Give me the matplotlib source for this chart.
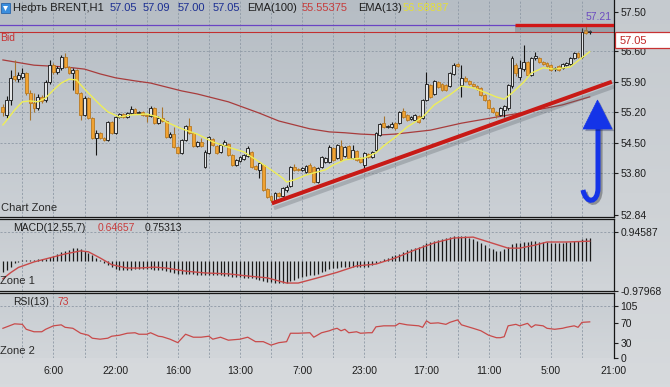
import numpy as np
import matplotlib
matplotlib.use("Agg")
import matplotlib.pyplot as plt
import matplotlib.patheffects as pe
from matplotlib import transforms
from matplotlib.colors import LinearSegmentedColormap
from matplotlib.path import Path
from matplotlib.patches import PathPatch, Polygon, Rectangle

plt.rcParams['font.family'] = ['Liberation Sans', 'DejaVu Sans']

W, H = 670, 387

# ---------------- data ----------------

opens = [
    55.32, 55.14, 55.48, 56.03, 55.96, 56.01, 56.10, 55.64, 55.41, 55.30,
    55.55, 55.48, 55.89, 56.28, 56.12, 56.22, 56.47, 56.24, 56.10, 56.17,
    55.64, 55.14, 55.53, 55.07, 54.61, 54.72, 54.61, 54.56, 54.98, 54.72,
    55.09, 55.16, 55.09, 55.18, 55.27, 55.18, 55.21, 55.14, 55.11, 55.30,
    54.95, 55.07, 55.00, 54.63, 54.70, 54.40, 54.27, 54.56, 54.89, 54.72,
    54.43, 54.52, 53.95, 54.27, 54.59, 54.43, 54.29, 54.45, 54.47, 54.22,
    53.99, 54.08, 54.13, 54.20, 54.29, 53.97, 53.88, 53.99, 53.44, 53.28,
    53.19, 53.35, 53.28, 53.42, 53.51, 53.95, 53.90, 53.88, 53.83, 53.99,
    53.95, 53.60, 53.95, 54.06, 54.06, 54.38, 54.15, 54.43, 54.20, 54.43,
    54.15, 54.31, 54.15, 53.99, 54.24, 54.17, 54.34, 54.68, 54.95, 54.86,
    54.86, 54.95, 54.95, 55.23, 55.14, 55.05, 55.02, 55.11, 55.07, 55.48,
    55.83, 55.62, 55.89, 55.85, 55.83, 55.80, 56.08, 56.31, 55.83, 55.99,
    55.92, 55.85, 55.80, 55.76, 55.60, 55.48, 55.30, 55.21, 55.14, 55.25,
    55.30, 55.80, 56.28, 56.01, 56.20, 56.35, 56.06, 56.45, 56.45, 56.35,
    56.33, 56.28, 56.19, 56.26, 56.22, 56.28, 56.31, 56.45, 56.56, 56.47,
    57.09, 57.05]

closes = [
    55.21, 55.48, 55.99, 55.96, 56.06, 56.10, 55.64, 55.41, 55.30, 55.55,
    55.46, 55.89, 56.28, 56.12, 56.22, 56.47, 56.24, 56.10, 56.17, 55.64,
    55.14, 55.53, 55.07, 54.61, 54.72, 54.61, 54.56, 54.98, 54.72, 55.09,
    55.16, 55.09, 55.18, 55.27, 55.18, 55.21, 55.14, 55.11, 55.30, 54.95,
    55.07, 55.00, 54.63, 54.70, 54.40, 54.27, 54.56, 54.89, 54.72, 54.43,
    54.52, 54.43, 54.29, 54.63, 54.45, 54.27, 54.45, 54.52, 54.22, 53.99,
    54.11, 54.17, 54.22, 54.38, 53.95, 53.90, 54.04, 53.42, 53.26, 53.19,
    53.35, 53.28, 53.46, 53.49, 53.95, 53.88, 53.88, 53.92, 53.97, 53.83,
    53.60, 53.92, 54.17, 54.15, 54.40, 54.11, 54.45, 54.11, 54.40, 54.15,
    54.34, 54.11, 54.06, 54.27, 54.17, 54.29, 54.72, 54.93, 54.86, 54.89,
    54.93, 54.84, 55.21, 55.09, 55.02, 55.09, 55.14, 54.98, 55.48, 55.85,
    55.55, 55.92, 55.78, 55.71, 55.71, 56.10, 56.28, 56.26, 55.99, 55.92,
    55.85, 55.80, 55.73, 55.60, 55.48, 55.30, 55.21, 55.14, 55.30, 55.34,
    55.83, 56.45, 56.10, 56.22, 56.35, 56.06, 56.45, 56.49, 56.35, 56.31,
    56.26, 56.17, 56.22, 56.17, 56.31, 56.33, 56.45, 56.56, 56.47, 57.04,
    57.02, 57.05]

highs = [
    55.39, 55.57, 56.17, 56.40, 56.12, 56.22, 56.12, 55.71, 55.64, 55.62,
    55.60, 55.94, 56.40, 56.33, 56.26, 56.51, 56.56, 56.26, 56.22, 56.19,
    55.67, 55.57, 55.55, 55.09, 54.79, 54.75, 54.63, 55.00, 55.00, 55.11,
    55.18, 55.18, 55.21, 55.34, 55.30, 55.23, 55.23, 55.16, 55.34, 55.32,
    55.11, 55.32, 55.02, 54.75, 54.86, 54.43, 54.59, 54.91, 55.07, 54.75,
    54.54, 54.61, 54.34, 54.66, 54.61, 54.45, 54.47, 54.56, 54.50, 54.24,
    54.13, 54.20, 54.24, 54.43, 54.31, 53.99, 54.06, 54.01, 53.46, 53.30,
    53.37, 53.37, 53.49, 53.53, 53.97, 54.01, 53.92, 53.95, 53.99, 54.04,
    53.97, 53.95, 54.20, 54.17, 54.45, 54.40, 54.47, 54.56, 54.43, 54.45,
    54.45, 54.34, 54.17, 54.29, 54.27, 54.31, 54.75, 54.95, 55.11, 54.91,
    54.98, 54.98, 55.23, 55.30, 55.16, 55.11, 55.16, 55.14, 55.50, 56.12,
    55.85, 55.94, 55.92, 55.87, 55.85, 56.12, 56.33, 56.33, 56.28, 56.03,
    55.94, 55.87, 55.83, 55.78, 55.62, 55.50, 55.32, 55.23, 55.32, 55.37,
    55.85, 56.49, 56.33, 56.40, 56.74, 56.38, 56.47, 56.58, 56.47, 56.38,
    56.35, 56.31, 56.24, 56.28, 56.33, 56.35, 56.47, 56.58, 56.58, 57.13,
    57.21, 57.09]

lows = [
    55.11, 55.07, 55.37, 55.92, 55.89, 55.96, 55.60, 55.02, 55.21, 55.25,
    55.41, 55.44, 55.85, 56.08, 56.08, 56.17, 56.22, 56.08, 55.71, 55.62,
    55.02, 55.11, 55.05, 54.59, 54.22, 54.59, 54.54, 54.54, 54.70, 54.70,
    55.07, 55.07, 55.07, 55.16, 55.16, 55.16, 55.11, 54.98, 55.09, 54.93,
    54.93, 54.98, 54.61, 54.61, 54.38, 54.24, 54.24, 54.54, 54.70, 54.40,
    54.40, 54.40, 53.92, 54.24, 54.43, 54.24, 54.27, 54.43, 54.20, 53.97,
    53.97, 54.06, 54.11, 54.17, 53.92, 53.88, 53.69, 53.39, 53.23, 53.14,
    53.12, 53.26, 53.26, 53.37, 53.49, 53.85, 53.85, 53.85, 53.81, 53.81,
    53.58, 53.58, 53.92, 54.04, 54.04, 54.08, 54.13, 54.08, 54.17, 54.13,
    54.13, 54.08, 54.04, 53.92, 54.15, 54.15, 54.31, 54.66, 54.84, 54.84,
    54.84, 54.79, 54.93, 55.07, 55.00, 55.02, 55.00, 54.95, 55.05, 55.46,
    55.53, 55.60, 55.76, 55.69, 55.69, 55.78, 56.06, 56.24, 55.55, 55.89,
    55.83, 55.78, 55.71, 55.57, 55.46, 55.28, 55.18, 55.07, 55.11, 55.09,
    55.25, 55.76, 56.03, 55.94, 56.15, 56.03, 56.03, 56.40, 56.33, 56.28,
    56.24, 56.15, 56.15, 56.15, 56.19, 56.26, 56.28, 56.42, 56.45, 56.45,
    57.00, 57.00]

# EMA lines, read at the bars where they were sampled
ema13_x = [0, 1, 3, 5, 7, 9, 11, 13, 15, 17, 19, 20, 22, 25, 27, 30, 33, 37, 40, 42,
           45, 47, 50, 54, 58, 62, 66, 69, 72, 73, 75, 78, 80, 83, 85, 88, 90, 93, 96, 98,
           101, 104, 108, 111, 115, 118, 121, 124, 127, 129, 131, 134, 136, 139, 142, 146, 149, 151]
ema13_v = [54.91, 55.02, 55.25, 55.44, 55.46, 55.44, 55.53, 55.71, 55.87, 55.96,
           55.94, 55.83, 55.64, 55.37, 55.21, 55.09, 55.14, 55.16, 55.09, 54.98,
           54.86, 54.79, 54.70, 54.52, 54.40, 54.29, 54.06, 53.88, 53.69, 53.60,
           53.65, 53.76, 53.81, 53.88, 53.99, 54.11, 54.13, 54.15, 54.27, 54.43,
           54.63, 54.86, 55.09, 55.37, 55.60, 55.80, 55.76, 55.66, 55.55, 55.50,
           55.64, 55.89, 56.10, 56.22, 56.19, 56.24, 56.45, 56.58887]

ema100_x = [0, 8, 16, 21, 25, 29, 34, 38, 42, 46, 50, 58, 66, 71, 75, 79, 84, 88, 92, 97,
            101, 110, 118, 127, 135, 144, 151]
ema100_v = [56.40, 56.28, 56.24, 56.19, 56.08, 55.99, 55.92, 55.87, 55.78, 55.69,
            55.62, 55.44, 55.18, 55.00, 54.91, 54.82, 54.75, 54.73, 54.70, 54.68,
            54.70, 54.79, 54.95, 55.09, 55.21, 55.37, 55.55375]

# MACD(12,55,7): histogram per bar, signal line sampled
macd_hist = [
    -0.36, -0.30, -0.20,
    -0.08, -0.03, 0.02, 0.03, 0.03, 0.04, 0.05, 0.06, 0.08,
    0.12, 0.17, 0.22, 0.28, 0.33, 0.37, 0.41, 0.42,
    0.38, 0.33, 0.26, 0.18, 0.10,
    0.02, -0.06, -0.13, -0.20, -0.26, -0.28, -0.29,
    -0.29, -0.28, -0.27, -0.26, -0.26, -0.26, -0.27, -0.28, -0.29, -0.30, -0.32,
    -0.35, -0.38, -0.42, -0.44, -0.44, -0.43, -0.44, -0.46, -0.47, -0.46, -0.45, -0.45,
    -0.46, -0.47, -0.48, -0.49, -0.51, -0.52,
    -0.53, -0.54, -0.55, -0.57, -0.59, -0.62, -0.65, -0.68, -0.70, -0.71, -0.72, -0.72, -0.71,
    -0.66, -0.61, -0.57, -0.53, -0.49, -0.46, -0.45, -0.41, -0.36, -0.32, -0.27, -0.24,
    -0.22, -0.21, -0.20, -0.20, -0.20, -0.20, -0.21, -0.20, -0.18, -0.14, -0.08,
    -0.02, 0.06, 0.11, 0.15, 0.19, 0.24,
    0.30, 0.35, 0.39, 0.42, 0.46, 0.52, 0.58, 0.62, 0.66, 0.69, 0.71, 0.74, 0.78, 0.81, 0.82,
    0.82, 0.80, 0.76, 0.71, 0.65, 0.58, 0.51, 0.44, 0.38, 0.34, 0.33,
    0.38, 0.46, 0.55, 0.58, 0.60, 0.62, 0.63,
    0.64, 0.64, 0.63, 0.62, 0.61, 0.60, 0.60, 0.60, 0.60, 0.61, 0.62, 0.64, 0.66,
    0.71, 0.74, 0.75313]

sig_x = [0, 2, 4, 8, 12, 16, 20, 22, 25, 28, 32, 35, 39, 42, 47, 52, 58, 63, 68, 73,
         76, 81, 86, 91, 96, 101, 106, 111, 116, 121, 126, 130, 133, 137, 140, 145, 151]
sig_v = [-0.58, -0.38, -0.21, -0.03, 0.10, 0.23, 0.33, 0.30, 0.10, -0.12,
         -0.23, -0.23, -0.20, -0.23, -0.33, -0.39, -0.42, -0.49, -0.55, -0.72,
         -0.72, -0.55, -0.37, -0.16, -0.10, 0.10, 0.36, 0.59, 0.75, 0.78,
         0.58, 0.42, 0.42, 0.52, 0.62, 0.62, 0.64657]

# RSI(13)
rsi_x = [0, 1, 3, 5, 6, 8, 10, 11, 13, 15, 16, 18, 20, 22, 23, 25, 27, 28, 30, 32,
         34, 35, 37, 38, 40, 41, 43, 45, 47, 49, 51, 53, 54, 56, 58, 61, 63, 65, 67, 69,
         71, 73, 74, 76, 79, 80, 82, 84, 85, 86, 87, 88, 89, 91, 92, 94, 95, 96, 98, 101,
         102, 104, 107, 108, 109, 110, 112, 114, 115, 117, 118, 121, 123, 125, 127, 128, 129, 130, 132, 133,
         135, 136, 137, 139, 140, 142, 144, 145, 147, 148, 149, 151]
rsi_v = [60, 63, 69, 68, 58, 53, 53, 58, 65, 67, 62, 60, 50, 46, 40, 38, 40, 44, 46, 50,
         51, 48, 48, 51, 44, 43, 38, 31, 48, 42, 42, 44, 38, 42, 36, 38, 42, 33, 33, 26,
         31, 33, 50, 50, 51, 42, 51, 55, 58, 60, 55, 58, 51, 53, 50, 51, 51, 63, 65, 65,
         70, 67, 65, 62, 75, 70, 71, 68, 72, 77, 67, 60, 55, 46, 41, 41, 43, 65, 68, 65,
         70, 62, 67, 65, 60, 58, 60, 62, 65, 62, 72, 73]

price_ticks = [52.84, 53.80, 54.50, 55.20, 55.90, 56.60, 57.50]
macd_ticks = [-0.97968, 0.94587]
rsi_ticks = [0, 30, 70, 105]
time_labels = ['6:00', '22:00', '16:00', '13:00', '7:00', '23:00', '17:00', '11:00', '5:00', '21:00']
time_pos = [13, 29, 45, 61, 77, 93, 109, 125, 141, 157]

bid = 57.05
high_mark = 57.21
high_from = 131.8
trend_start = (69.2, 53.11)
trend_end = (156.7, 55.90)

# ---------------- figure ----------------

opens, closes = np.array(opens), np.array(closes)
highs, lows = np.array(highs), np.array(lows)
bars = np.arange(len(closes))
xlim = (-0.75, 157.25)

fig = plt.figure(figsize=(W / 100, H / 100), dpi=100)
px = transforms.Affine2D().scale(1 / W, -1 / H).translate(0, 1) + fig.transFigure  # picture pixels


def gradient(ax, top, bottom, **kw):
    cmap = LinearSegmentedColormap.from_list('g', [top, bottom])
    ax.imshow(np.linspace(0, 1, 128)[:, None], cmap=cmap, aspect='auto',
              extent=(0, 1, 0, 1), transform=ax.transAxes, zorder=-10, **kw)


bg = fig.add_axes([0, 0, 1, 1], zorder=-20)
bg.axis('off')
gradient(bg, '#c5cacf', '#d7dadd')

ax = fig.add_axes([0, 1 - 217 / H, 614 / W, 217 / H])
am = fig.add_axes([0, 1 - 291 / H, 614 / W, 72 / H])
ar = fig.add_axes([0, 1 - 358 / H, 614 / W, 65 / H])

gradient(ax, '#b6bdc4', '#cbd0d5')
gradient(am, '#c6cbd0', '#d1d5d9')
gradient(ar, '#c8cdd2', '#d2d6da')

grid_kw = dict(color='#8e99a5', lw=0.6, ls=(0, (2.5, 2)), zorder=0)
for a in (ax, am, ar):
    a.set_facecolor('none')
    for gx in range(5, 157, 8):
        a.axvline(gx, **grid_kw)
    a.set_xlim(*xlim)
    a.set_xticks([])
    a.yaxis.tick_right()
    a.tick_params(axis='y', direction='out', length=3, width=0.8, pad=1.5,
                  labelsize=7.5, colors='#1e1e1e')
    for s in a.spines.values():
        s.set_color('#161616')
        s.set_linewidth(0.9)
    a.spines['left'].set_visible(False)

# main panel
for gy in price_ticks[1:-1]:
    ax.axhline(gy, **grid_kw)
ax.axhline(high_mark, color='#6a44c4', lw=0.9, zorder=1)
ax.axhline(bid, color='#c23030', lw=0.8, zorder=1)

ax.plot(ema100_x, ema100_v, color='#a83c3c', lw=0.9, zorder=2)

up = closes >= opens
face = np.where(up, '#e4e6e8', '#f0a232')
edge = np.where(up, '#141414', '#b87a22')
wick = np.where(up, '#141414', '#a8742c')
ax.vlines(bars, lows, highs, colors=wick, lw=0.8, zorder=3)
ax.bar(bars, np.maximum(np.abs(closes - opens), 0.012), bottom=np.minimum(opens, closes),
       width=0.74, color=face, edgecolor=edge, linewidth=0.6, zorder=4)

ax.plot(ema13_x, ema13_v, color='#eeee58', lw=1.0, zorder=5)

shadow = [pe.SimpleLineShadow(offset=(1.5, -3.5), shadow_color='#5a6168', alpha=0.3), pe.Normal()]
ax.plot([trend_start[0], trend_end[0]], [trend_start[1], trend_end[1]], color='#c81a16',
        lw=2.9, solid_capstyle='butt', zorder=6, path_effects=shadow)
ax.plot([high_from, xlim[1]], [high_mark, high_mark], color='#d01616', lw=2.4,
        solid_capstyle='butt', zorder=6,
        path_effects=[pe.SimpleLineShadow(offset=(0, -3), shadow_color='#6c737a', alpha=0.4,
                                          linewidth=4.5), pe.Normal()])

ax.set_ylim(57.775 - 217 / 43.6, 57.775)
ax.set_yticks(price_ticks)
ax.set_yticklabels([f'{v:.2f}' for v in price_ticks])
ax.spines['top'].set_visible(False)

# MACD panel
am.axhline(macd_ticks[1], **grid_kw)
am.vlines(bars, 0, macd_hist, color='#1a1a1a', lw=0.9, zorder=3)
am.plot(sig_x, sig_v, color='#c84a4a', lw=1.0, zorder=4)
am.set_ylim(-0.97968, 1.371)
am.set_yticks(macd_ticks)
am.set_yticklabels([f'{v:.5f}' for v in macd_ticks])

# RSI panel
ar.axhline(105, **grid_kw)
ar.axhline(0, **grid_kw)
ar.plot(rsi_x, rsi_v, color='#c84a4a', lw=0.9, zorder=3)
ar.set_ylim(0, 131.3)
ar.set_yticks(rsi_ticks)
ar.spines['bottom'].set_visible(False)
ar.set_xticks(time_pos)
ar.set_xticklabels(time_labels)
ar.tick_params(axis='x', length=0, pad=6, labelsize=7.5, colors='#1e1e1e')

# ---------------- texts and decorations (picture pixels) ----------------

def txt(x, y, s, color='#1e1e1e', size=7.5, **kw):
    fig.text(x, y, s, transform=px, color=color, fontsize=size, va='center', **kw)


fig.add_artist(Rectangle((1, 3), 9, 10, transform=px, facecolor='#3a8ede', edgecolor='#2a64a8', lw=0.6))
fig.add_artist(Polygon([(3, 6), (8, 6), (5.5, 11)], closed=True, transform=px, facecolor='white', lw=0))

blue = '#1c2f92'
txt(13, 8, 'Нефть BRENT,H1', size=8)
txt(110, 8, '57.05', blue, 8)
txt(143, 8, '57.09', blue, 8)
txt(178, 8, '57.00', blue, 8)
txt(213, 8, '57.05', blue, 8)
txt(247, 8, 'EMA(100)', size=8)
txt(302, 8, '55.55375', '#c63c3c', 8)
txt(358, 8, 'EMA(13)', size=8)
txt(403, 8, '56.58887', '#e4de3c', 8)
txt(0, 38, 'Bid', '#c83232', 7.5)
txt(612, 17, '57.21', '#6c4cc0', 7.5, ha='right')
txt(1, 208, 'Chart Zone', '#2a2a2a', 8)

txt(13, 228, 'MACD(12,55,7)', size=7.5)
txt(98, 228, '0.64657', '#c83c3c', 7.5)
txt(145, 228, '0.75313', size=7.5)
txt(0, 281, 'Zone 1', '#2a2a2a', 8)

txt(13, 302, 'RSI(13)', size=7.5)
txt(57, 302, '73', '#c83c3c', 7.5)
txt(0, 351, 'Zone 2', '#2a2a2a', 8)

# current bid price box on the price scale
fig.add_artist(Rectangle((614.5, 32), 56, 16, transform=px, facecolor='white',
                         edgecolor='#c83232', lw=0.9))
txt(620, 40.5, '57.05', '#c02828', 8)

# blue hand-drawn arrow
arrow_blue = '#1434e8'
shaft = Path([(583, 190), (586, 205), (598, 203), (598, 188), (598, 127)],
             [Path.MOVETO, Path.CURVE4, Path.CURVE4, Path.CURVE4, Path.LINETO])
fig.add_artist(PathPatch(shaft, transform=px, facecolor='none', edgecolor=arrow_blue, lw=3.6,
                         capstyle='butt',
                         path_effects=[pe.SimpleLineShadow(offset=(1.5, -1.5), alpha=0.3), pe.Normal()]))
fig.add_artist(Polygon([(583, 129), (612, 129), (597.5, 100)], closed=True, transform=px,
                       facecolor=arrow_blue, edgecolor=arrow_blue, lw=0.5,
                       path_effects=[pe.SimplePatchShadow(offset=(1.5, -1.5), alpha=0.3), pe.Normal()]))

fig.savefig('out.png', dpi=100)
